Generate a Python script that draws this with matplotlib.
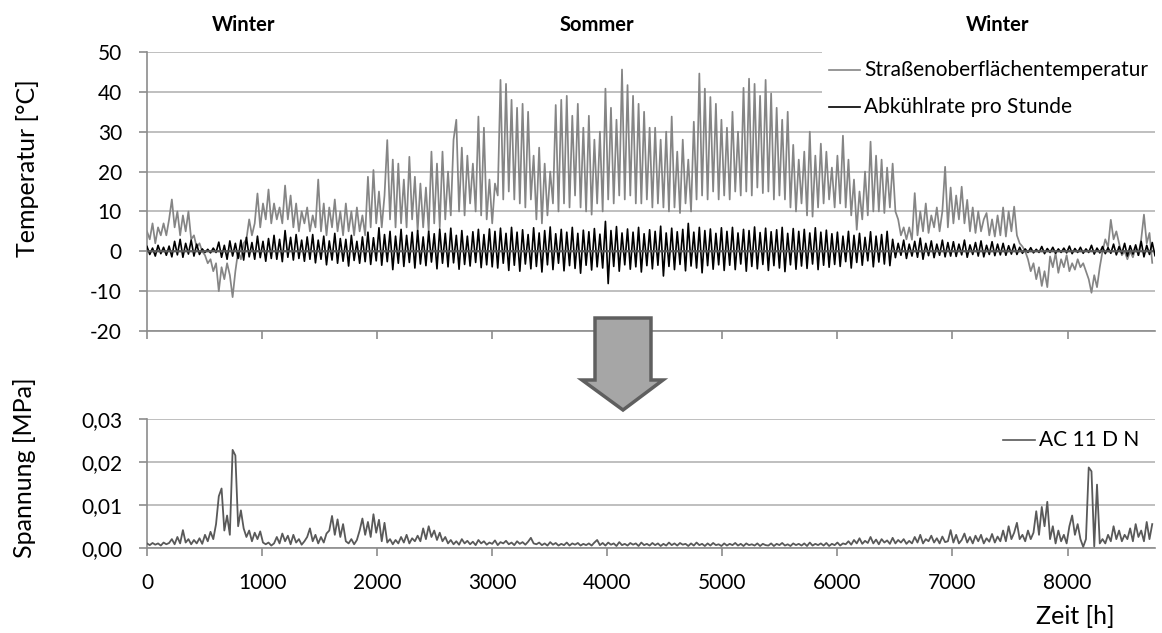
import numpy as np
import matplotlib
matplotlib.use("Agg")
import matplotlib.pyplot as plt
from matplotlib.patches import Polygon, Rectangle
from matplotlib.lines import Line2D

plt.rcParams['font.family'] = ['Lato', 'DejaVu Sans']

# ---------------- data ----------------
# road surface temperature [°C], one value every 24 h (days 0..364)
temp = [
    5, 3, 7, 2, 6, 4, 7, 4, 8, 13,
    6, 10, 4, 9, 5, 10, 3, 4, 1, 2, 0,
    -1, -3, -2, -5, -3, -10, -4, -7, -3, -6, -11.5, -5,
    0, -2, 2, 3, 8, 4, 7, 14.5, 6, 12, 8, 15.5,
    7, 12, 8, 11, 7, 16.5, 8, 14, 6, 12, 5, 10, 7, 11, 5, 9,
    6, 18, 5, 12, 4, 11, 6, 13, 5, 10, 4, 12,
    5, 10, 4, 11, 5, 9, 4, 18.7, 6, 20.4, 7, 15,
    6, 14, 27.9, 8, 23, 6, 22, 7, 18, 6, 23.7, 8,
    18.7, 5, 17, 6, 16, 5, 25, 7, 22, 6, 25, 8, 20,
    9, 28, 33, 10, 26, 9, 24, 12, 22, 10, 33.8, 9,
    31, 8, 18, 7, 17, 14, 43, 13, 42, 15, 38, 13,
    36, 12, 37, 11, 35, 13, 24, 8, 26, 7, 22, 9, 20,
    12, 36.7, 10, 38, 12, 39, 11, 34, 14, 37, 11,
    31, 10, 34, 9.2, 28, 12, 30, 10, 40.8,
    13, 36, 12, 33, 14, 45.6, 13, 41.7, 14, 39, 12, 37, 12, 35, 13, 31,
    11, 31, 12, 28, 11, 30, 10, 33.8, 11, 25, 9.6, 28, 12, 23, 10,
    32.5, 13, 44.6, 14, 40.8, 13, 38.7, 15,
    37, 13, 33, 14, 31, 13, 35, 15, 30, 14,
    41, 15, 43.3, 14, 42, 16, 39, 14.6, 43,
    15, 39.6, 13, 36, 14, 33, 13, 35, 11, 26.7, 10, 23, 12, 25,
    9, 30, 8.7, 24, 11,
    27, 12, 25, 13, 21, 11, 24, 12, 29, 11,
    23, 9, 18, 5.4, 15, 8, 20, 9, 27.5, 10, 24,
    10, 23, 9.6, 21, 11, 22, 10, 8, 4, 6,
    3, 6, 2.9, 14.6, 4, 10, 5, 12, 4.6, 9, 6, 11, 5, 10,
    21.2, 6, 16, 7, 14, 8, 16.2, 7, 12.9, 5, 11, 4.6, 10, 5, 8,
    9.6, 4, 8, 3.7, 9, 4, 11, 3.7, 10, 5, 11.2, 4, 2, 1.2, 0,
    -2, -5, -3, -7, -4, -8.7, -5, -9,
    -1.3, -4, -0.5, -5.4, -2, -4, -1, -5, -3,
    -4.6, -2, -4, -3, -5, -7, -10.4, -6, -9, -4,
    0, 3, 1, 7.9, 3, 5, 2, -1, 0, -2, 0, -1.5, 1, -1,
    3, 9.2, 2, 4.6, -2.9,
]

# cooling rate per hour [°C]: positive peaks (every 48 h) and negative troughs (24 h later)
abk_max = [
    1.2, 0.8, 1.5, 1.0, 1.3, 2.5, 3.0, 2.0, 2.8, 1.8,
    0.6, 0.5, 0.8, 2.3, 1.5, 2.6, 2.0,
    2.8, 3.5, 2.2, 3.8, 2.5, 3.2,
    4.0, 3.0, 5.2, 3.5, 4.2, 2.8, 3.6,
    4.2, 2.8, 3.8, 2.6, 4.5, 3.2, 3.0, 4.0, 2.5, 3.6, 4.8, 3.4,
    5.9, 4.2, 5.0, 3.8, 5.5, 4.0, 4.8, 5.2, 3.6, 5.0, 4.4, 5.6,
    4.5, 5.8, 4.0, 5.2, 3.8, 4.9, 5.5, 4.2, 5.6,
    5.0, 5.8, 4.5, 6.0, 4.8, 5.4, 4.2, 5.9, 4.6, 5.2, 6.1, 4.4, 5.5, 4.8, 6.0, 4.5, 5.3, 4.9, 5.7, 4.3, 7.5,
    5.2, 6.2, 4.6, 5.6, 4.8, 6.0, 4.4, 5.4, 5.0, 6.3, 4.6, 5.8, 4.9, 5.5, 7.0, 4.8, 6.0, 5.2, 5.6, 4.5, 5.9,
    5.0, 6.0, 4.6, 5.5, 5.2, 6.1, 4.7, 5.8, 4.9, 5.4, 6.0, 4.5, 5.7, 5.0, 5.5, 4.6, 5.9, 4.8, 5.3, 4.4,
    4.8, 3.8, 5.0, 4.0, 4.5, 3.5, 4.9, 3.8, 4.2, 5.0,
    3.0, 2.0, 2.8, 1.8, 2.5, 3.3, 2.0, 2.6, 1.8, 2.8, 2.2,
    2.4, 1.8, 2.8, 1.6, 2.2, 2.6, 1.5, 2.4, 1.8, 2.0, 1.4, 1.8,
    1.0, 0.6, 0.9, 0.5, 1.2, 0.7, 1.0, 0.6, 0.8, 1.3, 0.7, 1.0, 0.6, 1.5, 0.8, 1.2, 0.9,
    1.8, 1.2, 2.0, 1.4, 1.6, 2.5, 1.5, 2.2,
]
abk_min = [
    -0.8, -1.2, -0.6, -1.0, -1.4, -0.9, -1.5, -0.7, -1.2, -0.8,
    -0.3, -0.4, -0.3,
    -1.5, -2.0, -1.2, -1.8, -2.2, -1.4, -2.0, -1.6, -2.5, -1.8,
    -2.0, -2.6, -1.5, -2.2, -1.8, -2.5, -2.0,
    -2.9, -2.0, -3.4, -2.2, -3.0, -2.5, -3.7, -2.3, -3.0, -2.6, -3.3, -2.4,
    -3.5, -2.6, -4.6, -3.0, -3.8, -2.8, -4.2, -3.2, -3.6, -2.7, -4.4, -3.0, -3.9, -2.9, -4.5, -3.3, -3.7, -2.8, -4.1, -3.4, -3.9,
    -4.2, -3.0, -4.8, -3.5, -5.0, -3.2, -4.4, -3.8, -5.2, -3.4, -4.6, -3.0, -4.9, -3.6, -4.3, -5.5, -3.5, -4.7, -3.9, -4.2, -8.1,
    -3.8, -5.0, -3.4, -4.5, -3.9, -5.2, -3.6, -4.4, -3.5, -6.2, -3.8, -4.6, -3.3, -4.9, -3.7, -4.2, -5.4, -3.6, -4.5, -3.4, -4.8,
    -3.5, -4.6, -3.2, -5.0, -3.8, -4.4, -3.3, -4.8, -3.6, -4.2, -5.1, -3.4, -4.5, -3.7, -4.3, -3.2, -4.6, -3.5, -4.0, -3.3,
    -3.8, -2.6, -4.2, -2.8, -3.5, -2.4, -3.9, -2.7, -3.2, -3.6,
    -1.6, -1.0, -1.8, -1.2, -1.5, -2.0, -1.1, -1.6, -1.0, -1.4, -1.2,
    -1.3, -0.9, -1.5, -0.8, -1.2, -1.4, -0.8, -1.1, -0.9, -1.0, -0.7, -0.8,
    -0.5, -0.3, -0.4, -0.3, -0.6, -0.3, -0.5, -0.3, -0.4, -0.6, -0.3, -0.5, -0.3, -0.7, -0.4, -0.6, -0.5,
    -0.9, -0.6, -1.2, -0.7, -1.0, -1.4, -0.8, -1.1,
]

# stress AC 11 D N [kPa], one value every 24 h (days 0..364)
stress_kpa = [
    1.0, 0.6, 1.1, 0.7, 1.0, 0.5, 1.2, 0.8, 1.1,
    2.0, 0.8, 2.5, 1.0, 4.1,
    1.2, 2.0, 0.8, 1.8, 1.0, 2.2, 0.9, 3.0, 1.5, 3.7,
    2.0, 5.5, 12.0, 13.8, 4.0, 7.5, 3.0, 22.8, 21.5, 5.0, 8.7, 4.5,
    2.5, 4.0, 1.5, 3.5, 2.0, 3.8, 1.2, 0.8, 1.2, 0.5, 1.0,
    2.5, 1.0, 3.3, 1.5, 2.8, 0.8, 3.0, 1.2, 2.0, 0.7, 1.5, 2.5, 4.5,
    1.5, 3.0, 1.0, 2.5, 1.2, 3.3, 4.0, 7.4, 3.0, 6.6, 2.5, 5.5,
    1.5, 1.0, 2.0, 0.8, 1.8, 4.0, 6.8, 3.0, 6.0, 2.5, 7.8, 3.5, 6.5,
    1.5, 5.8, 1.2, 2.0, 0.8, 1.8, 1.0, 2.5, 1.2, 3.0, 1.0, 2.2, 1.5,
    2.8, 1.5, 4.5, 2.0, 5.0, 2.5, 4.0, 1.8, 3.5, 1.5, 2.5,
    1.0, 1.8, 0.8, 1.5, 0.7, 2.0, 1.0, 1.6, 0.8, 1.4,
    0.6, 1.8, 1.0, 1.5, 0.7, 1.2, 0.9, 1.7, 0.6, 1.3,
    1.0, 1.6, 0.8, 1.2, 0.6, 1.5, 0.9, 1.3, 0.7, 1.4, 2.3, 1.0,
    0.8, 1.2, 0.6, 1.0, 0.5, 1.3, 0.7, 1.1, 0.5, 0.9, 0.6,
    1.2, 0.5, 1.0, 0.7, 1.1, 0.5, 0.9, 0.6, 1.0, 0.5, 1.2, 1.8,
    0.6, 1.1, 0.5, 1.2, 0.7, 1.0, 0.4, 1.3, 0.6, 0.9,
    0.5, 1.1, 0.7, 1.0, 0.4, 1.2, 0.6, 0.9, 0.5, 1.1,
    0.6, 1.0, 0.4, 0.9, 0.5, 1.2, 0.6, 1.0, 0.5, 1.1,
    0.7, 0.9, 0.4, 1.0, 0.5, 1.2, 0.6, 0.9, 0.4, 1.0,
    0.5, 1.1, 0.6, 0.8, 0.4, 1.0, 0.5, 0.9, 0.6, 1.1,
    0.5, 0.9, 0.4, 1.0, 0.6, 0.8, 0.5, 1.0, 0.4, 0.9, 0.6,
    0.5, 1.0, 0.4, 0.9, 0.6, 1.1, 0.5, 0.8, 0.4, 1.0,
    0.6, 0.9, 0.5, 1.0, 0.4, 1.2, 0.5, 0.9, 0.6, 1.0,
    0.5, 1.1, 0.4, 0.9, 0.6, 1.2, 0.5, 1.0,
    0.8, 1.5, 0.7, 1.8, 1.0, 2.2, 0.9, 1.6, 1.1, 2.5,
    1.0, 1.9, 0.8, 2.0, 1.2, 1.7, 0.9, 2.3, 1.0, 1.8, 1.2, 2.0, 0.9, 1.6,
    1.0, 2.5, 1.2, 3.0, 1.0, 2.0, 1.5, 2.8, 1.2, 2.2, 1.0, 2.6, 1.3,
    1.5, 4.1, 1.2, 3.0, 1.0,
    1.8, 3.3, 1.2, 2.5, 1.0, 2.8, 1.5, 3.0, 1.0, 2.2, 1.4, 3.2, 1.2, 2.6, 1.5,
    4.0, 1.5, 5.0, 2.0, 3.5, 5.8, 2.0, 3.0, 1.5, 4.0, 2.0, 3.5,
    8.5, 3.0, 9.5, 5.0, 10.7, 2.0, 5.0, 1.0, 4.0, 1.5, 3.0, 1.0,
    5.0, 7.5, 3.0, 5.5, 2.0, 0.2, 2.0, 18.7, 17.8, 0.3, 14.7,
    1.0, 2.0, 1.0, 3.0, 1.5, 5.0, 2.0, 4.0, 1.5, 3.0,
    2.0, 4.5, 1.5, 5.5, 2.5, 4.0, 1.5, 6.0, 2.0, 5.5,
]

x_ticks = [0, 1000, 2000, 3000, 4000, 5000, 6000, 7000, 8000]
temp_ticks = [-20, -10, 0, 10, 20, 30, 40, 50]
stress_ticks = [0.0, 0.01, 0.02, 0.03]
stress_ticklabels = ['0,00', '0,01', '0,02', '0,03']
seasons = ['Winter', 'Sommer', 'Winter']
legend_top = ['Straßenoberflächentemperatur', 'Abkühlrate pro Stunde']
legend_bottom = 'AC 11 D N'

# ---------------- derived arrays ----------------
temp = np.array(temp, dtype=float)
hours_temp = np.arange(len(temp)) * 24
abk = np.empty(len(abk_max) + len(abk_min))
abk[0::2] = abk_max
abk[1::2] = abk_min
hours_abk = np.arange(len(abk)) * 24
stress = np.array(stress_kpa) / 1000.0  # MPa
hours_stress = np.arange(len(stress)) * 24

# ---------------- figure ----------------
W, H = 1162, 633
fig = plt.figure(figsize=(W / 100, H / 100), dpi=100)

def fx(x):
    return x / W

def fy(y):
    return 1 - y / H

GRID = '#b4b4b4'
AXC = '#8c8c8c'
TGRAY = '#858585'
SGRAY = '#595959'
TICK_FS = 15

ax1 = fig.add_axes([fx(147), fy(331), (1155 - 147) / W, (331 - 52) / H])
ax2 = fig.add_axes([fx(147), fy(547.7), (1155 - 147) / W, (547.7 - 419) / H])

# top panel
ax1.plot(hours_temp, temp, color=TGRAY, lw=1.25, zorder=2)
ax1.plot(hours_abk, abk, color='black', lw=1.2, zorder=3)
ax1.plot(hours_stress, stress, color=SGRAY, lw=1.6, zorder=4)
ax1.set_xlim(0, 8760)
ax1.set_ylim(-20, 50)
ax1.set_yticks(temp_ticks)
ax1.set_yticklabels([str(t) for t in temp_ticks])
ax1.set_xticks(x_ticks)
ax1.set_xticklabels([])
ax1.yaxis.grid(True, color=GRID, lw=1.2)
ax1.set_axisbelow(True)

# bottom panel
ax2.plot(hours_stress, stress, color=SGRAY, lw=1.3, zorder=3)
ax2.set_xlim(0, 8760)
ax2.set_ylim(0, 0.03)
ax2.set_yticks(stress_ticks)
ax2.set_yticklabels(stress_ticklabels)
ax2.set_xticks(x_ticks)
ax2.set_xticklabels([str(t) for t in x_ticks])
ax2.yaxis.grid(True, color=GRID, lw=1.2)
ax2.set_axisbelow(True)

for ax in (ax1, ax2):
    for s in ('top', 'right'):
        ax.spines[s].set_visible(False)
    for s in ('left', 'bottom'):
        ax.spines[s].set_color(AXC)
        ax.spines[s].set_linewidth(1.2)
    ax.tick_params(axis='both', colors=AXC, labelcolor='black',
                   labelsize=TICK_FS, direction='out', width=1.2)
    ax.tick_params(axis='y', length=6, pad=12)
    ax.tick_params(axis='x', length=6, pad=12)

# axis labels
fig.text(fx(28), fy(168), 'Temperatur [°C]', rotation=90, ha='center', va='center', fontsize=18)
fig.text(fx(24), fy(468), 'Spannung [MPa]', rotation=90, ha='center', va='center', fontsize=18)
fig.text(fx(1075), fy(617), 'Zeit [h]', ha='center', va='center', fontsize=18)

# season labels
for name, xp in zip(seasons, [244, 597, 998]):
    fig.text(fx(xp), fy(25), name, ha='center', va='center', fontsize=14.5, fontweight='bold')

# top legend
fig.patches.append(Rectangle((fx(822), fy(125)), (1160 - 822) / W, (125 - 45) / H,
                             transform=fig.transFigure, facecolor='white',
                             edgecolor='none', zorder=5))
for i, (lab, col) in enumerate(zip(legend_top, [TGRAY, 'black'])):
    yy = 70 + 37 * i
    fig.lines.append(Line2D([fx(829), fx(860)], [fy(yy), fy(yy)], color=col, lw=1.2,
                            transform=fig.transFigure, zorder=6))
    fig.text(fx(864), fy(yy), lab, ha='left', va='center', fontsize=15, zorder=6)

# bottom legend
fig.lines.append(Line2D([fx(1003), fx(1035)], [fy(440), fy(440)], color=SGRAY, lw=1.2,
                        transform=fig.transFigure, zorder=6))
fig.text(fx(1039), fy(440), legend_bottom, ha='left', va='center', fontsize=15, zorder=6)

# arrow
arrow_px = [(595, 318), (651, 318), (651, 380), (663, 380), (623, 410), (582, 380), (595, 380)]
fig.patches.append(Polygon([(fx(x), fy(y)) for x, y in arrow_px], closed=True,
                           transform=fig.transFigure, facecolor='#a6a6a6',
                           edgecolor='#5f5f5f', lw=2.5, zorder=5))

fig.savefig('out.png', dpi=100)
